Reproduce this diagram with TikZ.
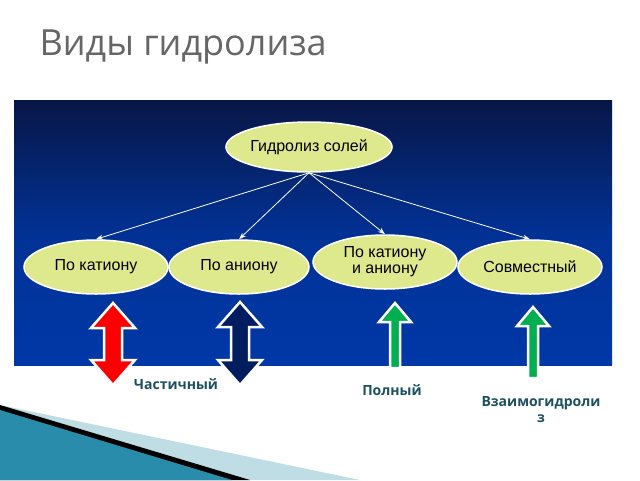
\documentclass[tikz,border=0pt]{standalone}
\usepackage{fontspec}
\setmainfont{Open Sans}
\newfontfamily\boxfont{Liberation Sans}
\usetikzlibrary{arrows.meta,shapes.geometric}
\definecolor{bulb}{RGB}{222,232,140}
\definecolor{navy}{RGB}{0,30,95}
\definecolor{panelblue}{RGB}{0,56,168}
\definecolor{paneltop}{RGB}{8,22,70}
\definecolor{labelteal}{RGB}{28,80,95}
\definecolor{greenarrow}{RGB}{0,176,80}
\definecolor{wedge}{RGB}{40,140,170}
\begin{document}
\begin{tikzpicture}[x=1pt,y=-1pt,
  kind/.style={ellipse,fill=bulb,draw=white,line width=1.5pt,minimum width=144pt,minimum height=54pt,inner sep=0pt,align=center,font=\boxfont\fontsize{16}{16}\selectfont},
  link/.style={white,line width=0.8pt,-{Stealth[length=7pt,width=5pt]}},
  sort/.style={font=\bfseries\fontsize{14}{16}\selectfont,text=labelteal,align=center},
  block/.style={draw=white,line width=2.5pt,line join=miter}]
\useasboundingbox (0,0) rectangle (640,480);
% panel
\shade[top color=paneltop,bottom color=panelblue,middle color=panelblue!80!paneltop] (14,100) rectangle (612,365);
% wedge in the corner
\fill[wedge!30!white] (0,405) -- (360,480) -- (0,480) -- cycle;
\fill[black] (0,405) -- (250,480) -- (0,480) -- cycle;
\fill[wedge] (0,410) -- (232,480) -- (0,480) -- cycle;
% title
\node[anchor=west,text=gray!80!black,font=\fontsize{36}{36}\selectfont] (title) at (36,47) {Виды гидролиза};
% nodes
\node[kind,minimum width=146pt,minimum height=50pt] (salt) at (309,147) {Гидролиз солей};
\node[kind] (cat) at (96,267) {По катиону};
\node[kind,minimum width=140pt] (an) at (239,267) {По аниону};
\node[kind] (both) at (385,262) {По катиону\\и аниону};
\node[kind] (joint) at (530,267) {Совместный};
\foreach \n in {cat,an,both,joint}
  \draw[link] (salt.south) -- (\n.north);
% block arrows
\fill[red,block] (113,303) -- (135,328) -- (122,328) -- (122,360) -- (135,360) -- (113,385) -- (91,360) -- (104,360) -- (104,328) -- (91,328) -- cycle;
\fill[navy,block] (240,302) -- (262,327) -- (249,327) -- (249,360) -- (262,360) -- (240,385) -- (218,360) -- (231,360) -- (231,327) -- (218,327) -- cycle;
\fill[greenarrow,block] (395,303) -- (411,322) -- (400,322) -- (400,368) -- (390,368) -- (390,322) -- (379,322) -- cycle;
\fill[greenarrow,block] (533,307) -- (549,326) -- (538,326) -- (538,378) -- (528,378) -- (528,326) -- (517,326) -- cycle;
% labels
\node[sort] (part) at (176,384) {Частичный};
\node[sort] (full) at (392,390) {Полный};
\node[sort] (mutual) at (541,410) {Взаимогидроли\\з};
\end{tikzpicture}
\end{document}
